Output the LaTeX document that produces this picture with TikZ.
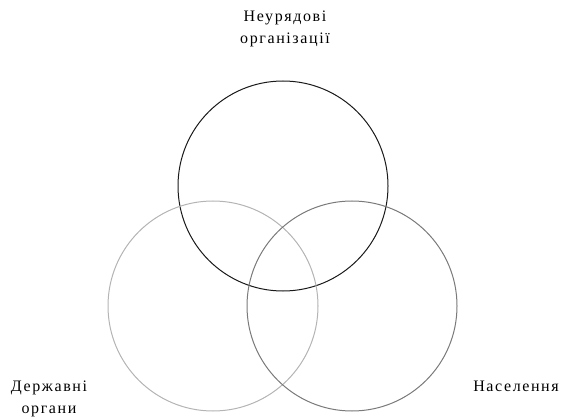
\documentclass[tikz,border=0pt]{standalone}
\usepackage{fontspec}
\setmainfont{Liberation Serif}
\usetikzlibrary{positioning}
\definecolor{ngoclr}{HTML}{1A1A1A}
\definecolor{govclr}{HTML}{B4B4B4}
\definecolor{popclr}{HTML}{7A7A7A}
\tikzset{
  sector/.style = {line width=1pt},
  label/.style  = {align=center, inner sep=0pt,
                   font=\fontsize{16}{22}\selectfont\addfontfeature{LetterSpace=10}},
}

\begin{document}
\begin{tikzpicture}[x=1pt, y=-1pt]
\useasboundingbox (0,0) rectangle (561,419);

%% --- circles -----------------------------------------------------------
\draw[sector, draw=ngoclr] (283,186) circle[radius=105];
\draw[sector, draw=govclr] (213,306) circle[radius=105];
\draw[sector, draw=popclr] (352,306) circle[radius=105];

%% --- labels ------------------------------------------------------------
\node[label, anchor=base] (ngo) at (285,44) {Неурядові\\організації};
\node[label, anchor=base] (gov) at (49,413) {Державні\\органи};
\node[label, anchor=base] (pop) at (516,391) {Населення};

\end{tikzpicture}
\end{document}
